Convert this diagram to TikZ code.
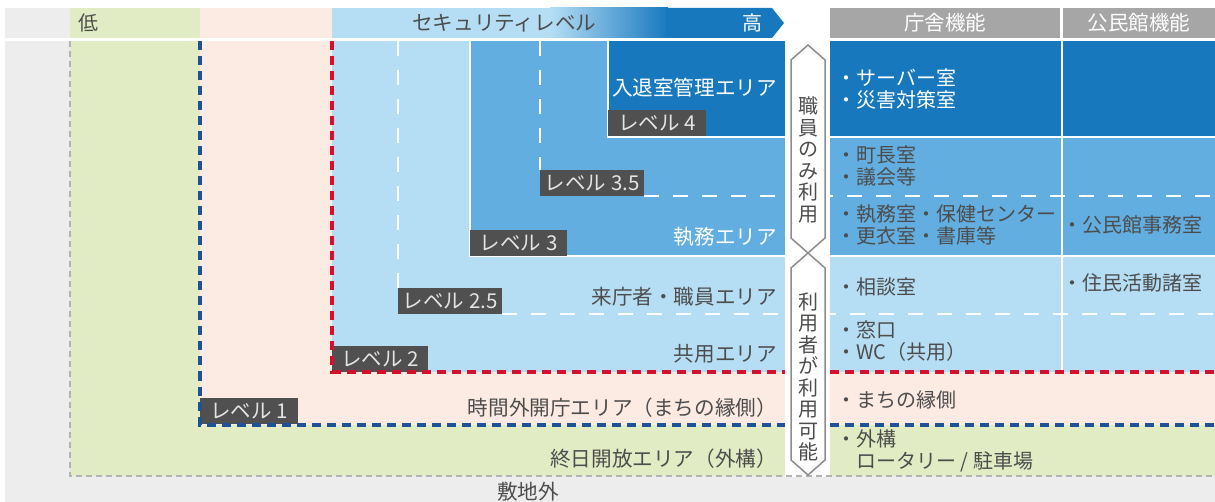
\documentclass[tikz,border=0pt]{standalone}
\usepackage{fontspec}
\setmainfont{Noto Sans CJK JP}
\definecolor{bggray}{HTML}{EDEDED}
\definecolor{greenz}{HTML}{E1ECC5}
\definecolor{peach}{HTML}{FCEBE2}
\definecolor{lblue}{HTML}{B5DEF5}
\definecolor{mblue}{HTML}{62AEE0}
\definecolor{dblue}{HTML}{1878BE}
\definecolor{hdrgray}{HTML}{A6A6A6}
\definecolor{lvlgray}{HTML}{505050}
\definecolor{lvltext}{HTML}{E4E4E4}
\definecolor{txtgray}{HTML}{4D4D4D}
\definecolor{bluedash}{HTML}{1F5196}
\definecolor{reddash}{HTML}{D3102E}
\definecolor{graydash}{HTML}{B3B3B3}
\definecolor{hexgray}{HTML}{8C8C8C}
\tikzset{
  lbl/.style={font=\fontsize{20}{22}\selectfont, text=txtgray, inner sep=0pt},
  wlbl/.style={lbl, text=white},
  area/.style={lbl, anchor=east, font=\fontsize{20.6}{22}\selectfont},
  warea/.style={area, text=white},
  item/.style={lbl, anchor=west, align=left},
  witem/.style={item, text=white},
  lvlbox/.style={fill=lvlgray, text=lvltext, font=\fontsize{20.5}{22}\selectfont, minimum height=26pt, inner sep=0pt, anchor=north west},
  bdash/.style={bluedash, line width=4.5pt, dash pattern=on 9pt off 6pt},
  rdash/.style={reddash, line width=4.5pt, dash pattern=on 9pt off 6pt},
  gdash/.style={graydash, line width=1.5pt, dash pattern=on 6pt off 4pt},
  wdash/.style={white, line width=2.5pt, dash pattern=on 15pt off 14pt},
  wline/.style={white, line width=1.8pt},
  hexa/.style={fill=white, draw=hexgray, line width=1.5pt, line join=miter},
  hdr/.style={fill=hdrgray, text=white, font=\fontsize{20.5}{22}\selectfont, inner sep=0pt, anchor=north west, minimum height=30pt},
  vtext/.style={lbl, align=center, font=\fontsize{20}{21.5}\selectfont}
}
\begin{document}
\begin{tikzpicture}[x=1pt,y=-1pt]
\useasboundingbox (0,0) rectangle (1215,502);
\fill[white] (0,0) rectangle (1215,502);
% header band
\fill[bggray] (5,8) rectangle (70,38);
\fill[greenz] (70,8) rectangle (200,38);
\fill[peach] (200,8) rectangle (332,38);
\fill[lblue] (332,8) rectangle (552,38);
\shade[left color=lblue, right color=dblue] (550,8) rectangle (668,38);
\fill[dblue] (666,8) -- (772,8) -- (784,23) -- (772,38) -- (666,38) -- cycle;
% body
\fill[bggray] (5,41.5) rectangle (1215,502);
\fill[greenz] (70,41.5) rectangle (1215,476);
\fill[peach] (200,41.5) rectangle (1215,425);
\fill[lblue] (332,41.5) rectangle (1215,372);
\fill[mblue] (470,41.5) rectangle (1215,256);
\fill[dblue] (608,41.5) rectangle (1215,137);
\draw[wline] (470,41.5) -- (470,256) -- (1215,256);
\draw[wline] (608,41.5) -- (608,137) -- (1215,137);
\draw[wdash] (398,41.5) -- (398,288);
\draw[wdash] (540,41.5) -- (540,170);
\draw[wdash] (502,314) -- (1215,314);
\draw[wdash] (644,196) -- (1215,196);
\draw[white, line width=2pt] (1061.5,41.5) -- (1061.5,372);
\fill[white] (785,41.5) rectangle (830,477);
% level labels
\node[lvlbox, minimum width=98pt] (l1) at (200,398) {レベル 1};
\node[lvlbox, minimum width=96pt] (l2) at (332,346) {レベル 2};
\node[lvlbox, minimum width=104pt] (l25) at (398,288) {レベル 2.5};
\node[lvlbox, minimum width=97pt] (l3) at (470,230) {レベル 3};
\node[lvlbox, minimum width=104pt] (l35) at (540,170) {レベル 3.5};
\node[lvlbox, minimum width=98pt] (l4) at (608,110) {レベル 4};
% dashed borders
\draw[gdash] (70,41.5) -- (70,476) -- (1215,476);
\draw[bdash] (200,41.5) -- (200,425) -- (785,425);
\draw[bdash] (830,425) -- (1215,425);
\draw[rdash] (332,41.5) -- (332,372) -- (785,372);
\draw[rdash] (830,372) -- (1215,372);
% hexagon arrows
\draw[hexa] (808,45) -- (825,60) -- (825,238) -- (808,253) -- (791,238) -- (791,60) -- cycle;
\draw[hexa] (808,253) -- (825,268) -- (825,460) -- (808,475) -- (791,460) -- (791,268) -- cycle;
\node[vtext] (staff) at (808,160) {職\\員\\の\\み\\利\\用};
\node[vtext] (users) at (808,377) {利\\用\\者\\が\\利\\用\\可\\能};
% header texts
\node[lbl] (low) at (88,23) {低};
\node[lbl, anchor=west, font=\fontsize{20.6}{22}\selectfont] (sec) at (412,23) {セキュリティレベル};
\node[wlbl] (high) at (752,23) {高};
\node[hdr, minimum width=230pt] (h1) at (830,8) {庁舎機能};
\node[hdr, minimum width=152pt] (h2) at (1063,8) {公民館機能};
% area labels
\node[warea] (a4) at (777,88) {入退室管理エリア};
\node[warea] (a3) at (777,237) {執務エリア};
\node[area] (a25) at (777,297) {来庁者・職員エリア};
\node[area] (a2) at (777,354) {共用エリア};
\node[area] (a1) at (777,408) {時間外開庁エリア（まちの縁側）};
\node[area] (a0) at (777,459) {終日開放エリア（外構）};
\node[lbl, font=\fontsize{20.6}{22}\selectfont] (out) at (528,492) {敷地外};
% table items
\node[witem] (r4) at (836,89) {・サーバー室\\・災害対策室};
\node[item] (r35) at (836,166) {・町長室\\・議会等};
\node[item] (r3) at (836,225) {・執務室・保健センター\\・更衣室・書庫等};
\node[item] (c3) at (1062,225) {・公民館事務室};
\node[item] (r25) at (836,287) {・相談室};
\node[item] (c25) at (1062,283) {・住民活動諸室};
\node[item] (r2) at (836,341) {・窓口\\・WC（共用）};
\node[item] (r1) at (836,400) {・まちの縁側};
\node[item] (r0) at (836,451) {・外構\\\hphantom{・}ロータリー / 駐車場};
\end{tikzpicture}
\end{document}
